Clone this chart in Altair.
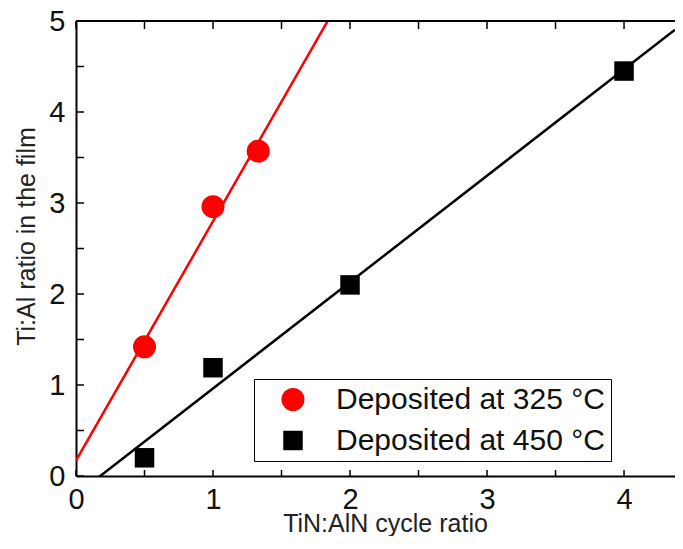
import altair as alt
import pandas as pd

# data
x325 = [0.5, 1.0, 1.33]
y325 = [1.42, 2.96, 3.57]
x450 = [0.5, 1.0, 2.0, 4.0]
y450 = [0.20, 1.19, 2.10, 4.45]
series_names = ["Deposited at 325 \u00b0C", "Deposited at 450 \u00b0C"]
x_ticks = [0, 0.5, 1, 1.5, 2, 2.5, 3, 3.5, 4]
y_ticks = [0, 0.5, 1, 1.5, 2, 2.5, 3, 3.5, 4, 4.5, 5]
x_labels = [0, 1, 2, 3, 4]
y_labels = [0, 1, 2, 3, 4, 5]

W, H = 599, 455
XMAX = 4.372
FONT = "Liberation Sans"

df = pd.DataFrame({
    "x": x325 + x450,
    "y": y325 + y450,
    "series": [series_names[0]] * len(x325) + [series_names[1]] * len(x450),
})

xs = alt.Scale(domain=[0, XMAX], nice=False, zero=False)
ys = alt.Scale(domain=[0, 5], nice=False, zero=False)

xaxis = alt.Axis(values=x_labels, format="d", tickSize=0, labelPadding=9, labelFontSize=29,
                 labelFont=FONT, labelColor="#111", title="TiN:AlN cycle ratio",
                 titleFont=FONT, titleFontSize=25, titleFontWeight="normal",
                 titleColor="#222", titleBaseline="middle", titleX=309, titleY=47,
                 domainColor="black", domainWidth=2, grid=False, labelFlush=False)
yaxis = alt.Axis(values=y_labels, format="d", tickSize=0, labelPadding=11, labelFontSize=29,
                 labelFont=FONT, labelColor="#111", title="Ti:Al ratio in the film",
                 titleFont=FONT, titleFontSize=25, titleFontWeight="normal",
                 titleColor="#222", titleBaseline="middle", titleX=-50, titleY=215,
                 domainColor="black", domainWidth=2, grid=False, labelFlush=False)

base = alt.Chart(df)

fit325 = base.transform_filter(alt.datum.series == series_names[0]).transform_regression(
    "x", "y", extent=[0, XMAX]).mark_line(color="#ff0000", strokeWidth=2.5, clip=True).encode(
    x=alt.X("x:Q", scale=xs, axis=xaxis), y=alt.Y("y:Q", scale=ys, axis=yaxis))
fit450 = base.transform_filter(alt.datum.series == series_names[1]).transform_regression(
    "x", "y", extent=[0, XMAX]).mark_line(color="black", strokeWidth=2.5, clip=True).encode(
    x=alt.X("x:Q", scale=xs), y=alt.Y("y:Q", scale=ys))

legend = alt.Legend(title=None, orient="none", legendX=178, legendY=358,
                    strokeColor="black", fillColor="white", padding=5.5,
                    symbolOffset=18.5, labelOffset=28, rowPadding=11,
                    labelFontSize=30, labelFont=FONT, labelColor="#111",
                    labelLimit=500, symbolStrokeWidth=0, symbolOpacity=1)

points = base.mark_point(filled=True, opacity=1, strokeWidth=0).encode(
    x=alt.X("x:Q", scale=xs),
    y=alt.Y("y:Q", scale=ys),
    color=alt.Color("series:N", scale=alt.Scale(domain=series_names, range=["#ff0000", "black"]), legend=legend),
    shape=alt.Shape("series:N", scale=alt.Scale(domain=series_names, range=["circle", "square"]), legend=legend),
    size=alt.Size("series:N", scale=alt.Scale(domain=series_names, range=[529, 380]), legend=legend),
)

xt = pd.DataFrame({"t": x_ticks})
yt = pd.DataFrame({"t": y_ticks})
bottom_ticks = alt.Chart(xt).mark_rule(color="black", strokeWidth=1.5).encode(
    x=alt.X("t:Q", scale=xs), y=alt.value(H), y2=alt.value(H - 6))
top_ticks = alt.Chart(xt).mark_rule(color="black", strokeWidth=1.5).encode(
    x=alt.X("t:Q", scale=xs), y=alt.value(0), y2=alt.value(8))
left_ticks = alt.Chart(yt).mark_rule(color="black", strokeWidth=1.5).encode(
    y=alt.Y("t:Q", scale=ys), x=alt.value(0), x2=alt.value(8))
top_border = alt.Chart(xt).mark_rule(color="black", strokeWidth=2).encode(
    x=alt.value(0), x2=alt.value(W), y=alt.value(0))

chart = alt.layer(fit325, fit450, bottom_ticks, top_ticks, left_ticks, top_border, points).properties(
    width=W, height=H,
    autosize=alt.AutoSizeParams(type="none"),
    padding={"left": 68, "top": 13, "right": 0, "bottom": 60},
).configure_view(stroke=None).configure(background="white")

chart.save("out.html", embed_options={"renderer": "svg", "actions": False})
